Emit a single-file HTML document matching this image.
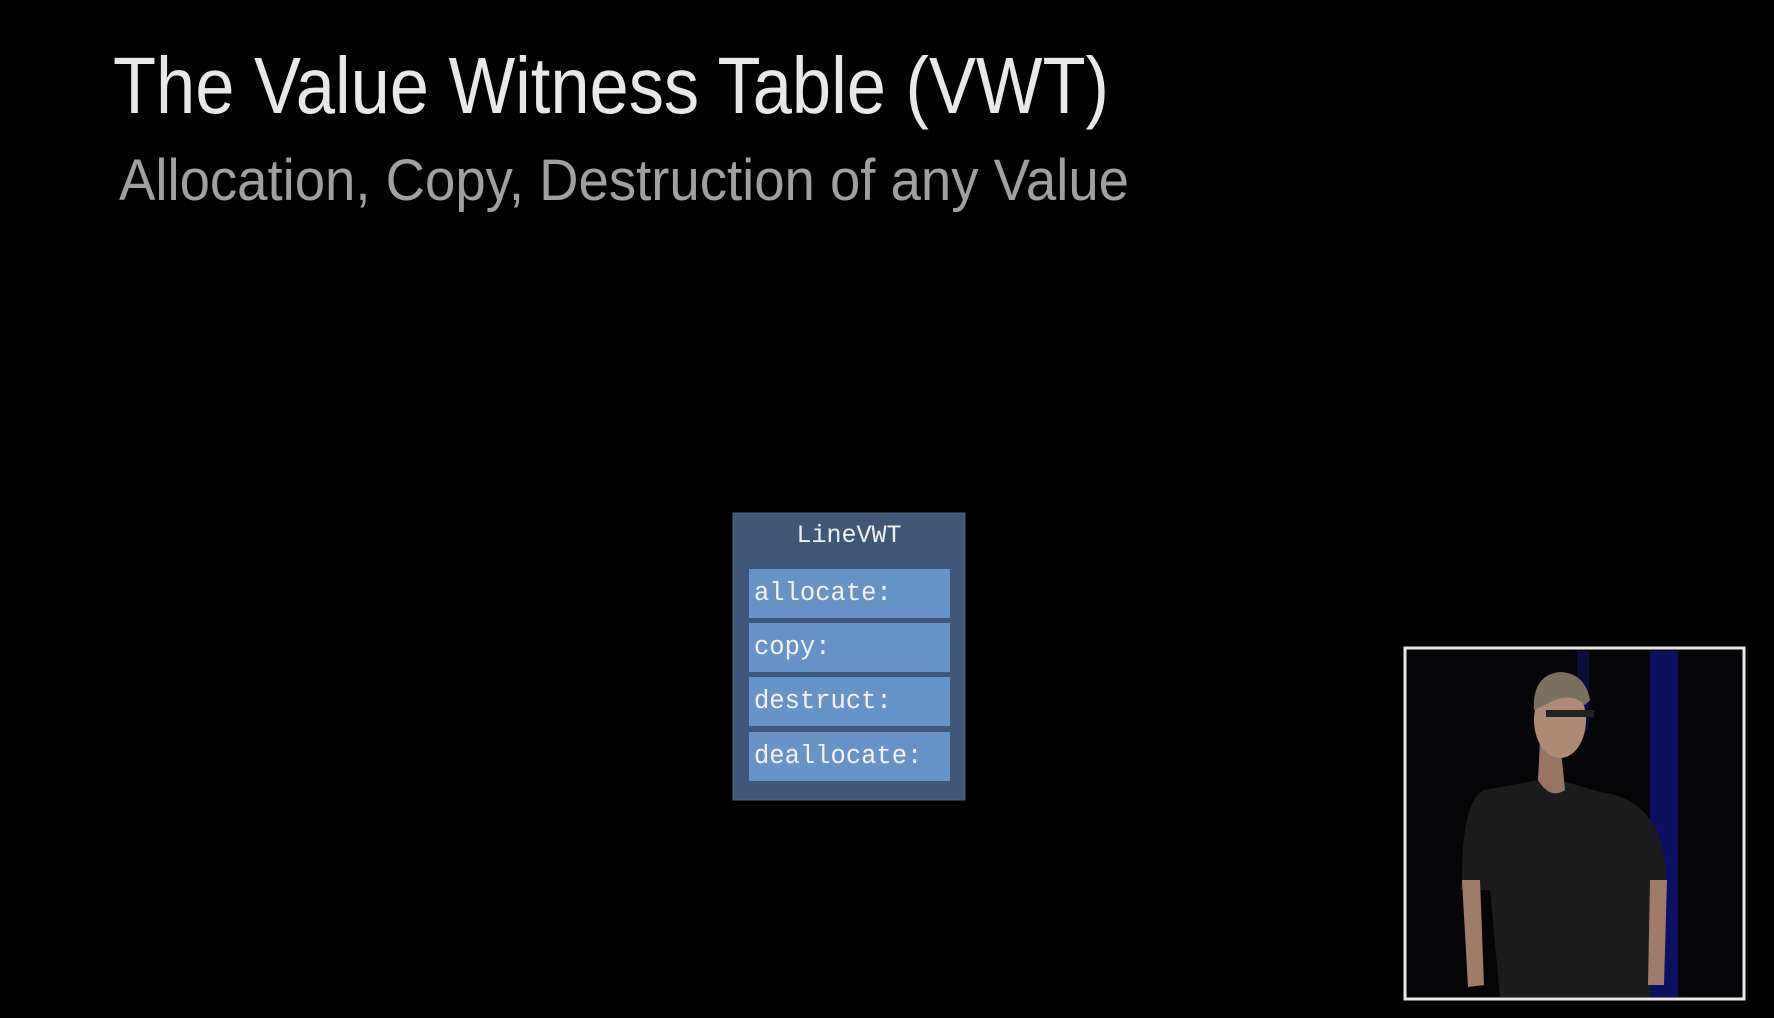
<!DOCTYPE html>
<html><head><meta charset="utf-8"><style>
html,body{margin:0;padding:0;background:#000;}
body{width:1774px;height:1018px;position:relative;overflow:hidden;}
</style></head><body>
<svg width="1774" height="1018" viewBox="0 0 1774 1018" xmlns="http://www.w3.org/2000/svg" style="position:absolute;left:0;top:0">
<rect width="1774" height="1018" fill="#000"/>
<text x="113" y="113" font-family="Liberation Sans, sans-serif" font-size="80" fill="#e8e8e8" textLength="996" lengthAdjust="spacingAndGlyphs">The Value Witness Table (VWT)</text>
<text x="119" y="200" font-family="Liberation Sans, sans-serif" font-size="58" fill="#a0a0a0" textLength="1010" lengthAdjust="spacingAndGlyphs">Allocation, Copy, Destruction of any Value</text>
<rect x="733" y="513" width="232" height="287" fill="#3f5878" stroke="#4a6688" stroke-width="1"/>
<text x="849" y="542" font-family="Liberation Mono, monospace" font-size="25" fill="#f0f0f0" text-anchor="middle">LineVWT</text>
<g font-family="Liberation Mono, monospace" font-size="25.5" fill="#f4f4f4">
<rect x="749" y="569" width="201" height="49" fill="#6694c8"/>
<text x="754" y="600">allocate:</text>
<rect x="749" y="623" width="201" height="49" fill="#6694c8"/>
<text x="754" y="654">copy:</text>
<rect x="749" y="677" width="201" height="49" fill="#6694c8"/>
<text x="754" y="708">destruct:</text>
<rect x="749" y="732" width="201" height="49" fill="#6694c8"/>
<text x="754" y="763">deallocate:</text>
</g>
<!-- inset video -->
<rect x="1405" y="648" width="339" height="351" fill="#050508" stroke="#e8e8e8" stroke-width="3"/>
<rect x="1650" y="651" width="28" height="346" fill="#0b1060"/>
<rect x="1577" y="651" width="12" height="80" fill="#0a0d3a"/>
<!-- person -->
<path d="M1460 890 L1462 880 Q1462 800 1484 790 L1540 780 L1560 780 L1600 792 Q1665 800 1666 880 L1655 890 L1650 997 L1500 997 L1490 890 Z" fill="#1c1c1c"/>
<path d="M1462 880 L1480 880 L1484 985 L1468 987 Z" fill="#a07c68"/>
<path d="M1650 880 L1667 880 L1664 985 L1648 985 Z" fill="#a07c68"/>
<path d="M1538 780 Q1550 800 1565 790 L1560 740 L1540 740 Z" fill="#9a7462"/>
<ellipse cx="1560" cy="720" rx="26" ry="38" fill="#b08a76"/>
<path d="M1534 710 Q1532 675 1560 672 Q1585 673 1590 700 L1585 705 Q1570 690 1545 705 Z" fill="#7a7060"/>
<rect x="1546" y="710" width="48" height="7" fill="#222"/>
</svg>
</body></html>
